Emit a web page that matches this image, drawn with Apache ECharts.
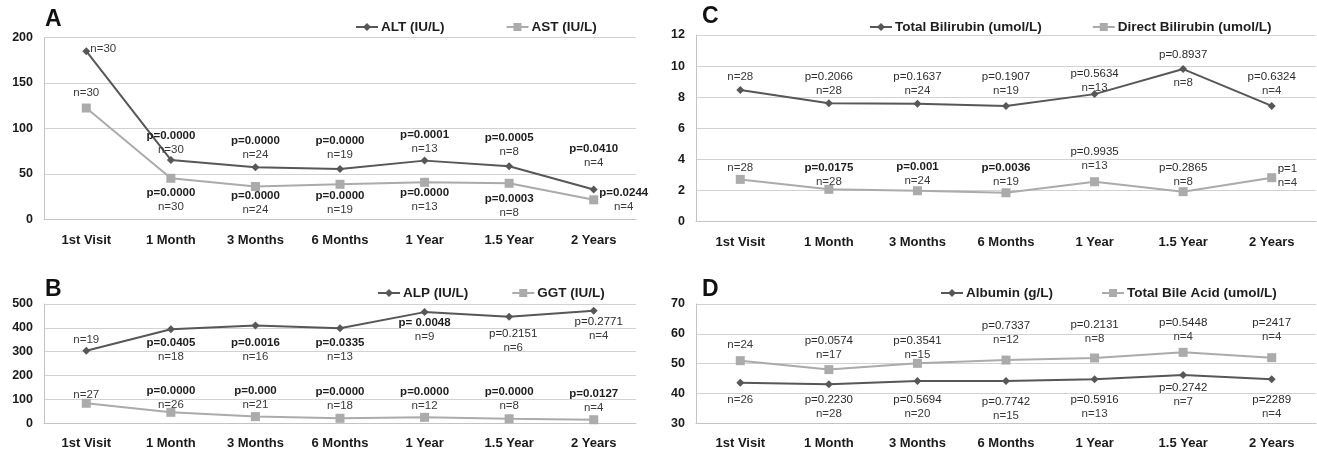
<!DOCTYPE html>
<html><head><meta charset="utf-8">
<script src="https://cdn.jsdelivr.net/npm/echarts@6/dist/echarts.min.js"></script>
<style>html,body{margin:0;padding:0;background:#fff}#c{width:1317px;height:457px}</style>
</head><body><div id="c"></div>
<script>
// ---------- DATA ----------
const categories = ['1st Visit','1 Month','3 Months','6 Months','1 Year','1.5 Year','2 Years'];

const altValues = [185, 65.5, 57.4, 55.6, 64.7, 58.5, 32.9];
const astValues = [122.5, 45.3, 36.2, 38.7, 40.9, 39.8, 21.6];
const alpValues = [304, 394, 410, 398, 466, 447, 472];
const ggtValues = [84, 46, 28, 21, 25, 19, 15];
const tbilValues = [8.46, 7.61, 7.58, 7.44, 8.2, 9.81, 7.44];
const dbilValues = [2.72, 2.08, 1.99, 1.86, 2.57, 1.93, 2.83];
const albValues = [43.6, 43.1, 44.2, 44.2, 44.8, 46.2, 44.8];
const tbaValues = [51.0, 48.0, 50.1, 51.2, 51.9, 53.8, 52.0];

const altP = ['', 'p=0.0000','p=0.0000','p=0.0000','p=0.0001','p=0.0005','p=0.0410'];
const altN = ['n=30','n=30','n=24','n=19','n=13','n=8','n=4'];
const astP = ['', 'p=0.0000','p=0.0000','p=0.0000','p=0.0000','p=0.0003','p=0.0244'];
const astN = ['n=30','n=30','n=24','n=19','n=13','n=8','n=4'];
const alpP = ['', 'p=0.0405','p=0.0016','p=0.0335','p= 0.0048','p=0.2151','p=0.2771'];
const alpN = ['n=19','n=18','n=16','n=13','n=9','n=6','n=4'];
const ggtP = ['', 'p=0.0000','p=0.000','p=0.0000','p=0.0000','p=0.0000','p=0.0127'];
const ggtN = ['n=27','n=26','n=21','n=18','n=12','n=8','n=4'];
const tbilP = ['', 'p=0.2066','p=0.1637','p=0.1907','p=0.5634','p=0.8937','p=0.6324'];
const tbilN = ['n=28','n=28','n=24','n=19','n=13','n=8','n=4'];
const dbilP = ['', 'p=0.0175','p=0.001','p=0.0036','p=0.9935','p=0.2865','p=1'];
const dbilN = ['n=28','n=28','n=24','n=19','n=13','n=8','n=4'];
const albP = ['', 'p=0.2230','p=0.5694','p=0.7742','p=0.5916','p=0.2742','p=2289'];
const albN = ['n=26','n=28','n=20','n=15','n=13','n=7','n=4'];
const tbaP = ['', 'p=0.0574','p=0.3541','p=0.7337','p=0.2131','p=0.5448','p=2417'];
const tbaN = ['n=24','n=17','n=15','n=12','n=8','n=4','n=4'];

// y-axis ranges [min, max, interval]
const axisA = [0, 200, 50];
const axisB = [0, 500, 100];
const axisC = [0, 12, 2];
const axisD = [30, 70, 10];

// ---------- STYLE: label placement [dx, dy, align, gapLine] ----------
const layALT = [[17,-2],[0,-17],[0,-19],[0,-21],[0,-19],[0,-21.7],[0,-33.5]];
const layAST = [[0,-15],[0,22],[0,16],[0,19],[0,18],[0,23],[30,0]];
const layALP = [[0,-11.4],[0,20.7],[0,24.7],[0,21.7],[0,17.7],[4,24.1],[5,18]];
const layGGT = [[0,-8.3],[0,-14.8],[0,-19.2],[0,-19.1],[0,-18.1],[0,-19.5],[0,-18.5]];
const layTB  = [[0,-13],[0,-19],[0,-20],[0,-22],[0,-13.5],[0,0,'center',true],[0,-22]];
const layDB  = [[0,-12],[0,-15],[0,-17],[0,-18],[0,-22.7],[0,-16.7],[6,-2,'left']];
const layALB = [[0,17.3],[0,22.7],[0,26],[0,27.7],[0,27.7],[0,19.5],[0,27.7]];
const layTBA = [[0,-15.7],[0,-22.2],[0,-15.8],[0,-27],[0,-26],[0,-22.3],[0,-27.7]];

const FONT = '"Liberation Sans", Arial, Helvetica, sans-serif';
const DARK = '#575757', LIGHT = '#ababab';
const GRIDC = '#d2d2d2', AXC = '#c4c4c4';

function isSig(p){
  if(!p) return false;
  const v = parseFloat(p.replace('p=','').trim());
  return !isNaN(v) && v < 0.05;
}
function buildData(values, ps, ns, lay){
  return values.map((v,i)=>{
    const p = ps[i], n = ns[i], L = lay[i];
    let txt;
    if(p){
      const pt = (isSig(p) ? '{pb|' : '{p|') + p + '}';
      txt = L[3] ? pt + '\n{n| }\n{n|' + n + '}' : pt + '\n{n|' + n + '}';
    } else txt = '{n|' + n + '}';
    return {value: v, label: {show: true, formatter: txt, offset: [L[0], L[1]], align: L[2] || 'center'}};
  });
}
const rich = {
  p: {fontFamily: FONT, fontSize: 11.5, color: '#2b2b2b', lineHeight: 14},
  pb:{fontFamily: FONT, fontSize: 11.5, fontWeight: 'bold', color: '#1e1e1e', lineHeight: 14},
  n: {fontFamily: FONT, fontSize: 11.5, color: '#3a3a3a', lineHeight: 14}
};
function mkSeries(name, values, ps, ns, lay, gi, dark){
  return {
    name, type: 'line', xAxisIndex: gi, yAxisIndex: gi,
    data: buildData(values, ps, ns, lay),
    symbol: dark ? 'diamond' : 'rect',
    symbolSize: dark ? 8 : 9,
    showSymbol: true,
    lineStyle: {color: dark ? DARK : LIGHT, width: 2},
    itemStyle: {color: dark ? DARK : LIGHT},
    label: {show: true, position: 'inside', verticalAlign: 'middle', rich},
    emphasis: {disabled: true},
    animation: false, z: dark ? 3 : 2
  };
}

const grids = [
  {left: 44, top: 37.5, width: 592, height: 182},
  {left: 44, top: 304, width: 592, height: 119.3},
  {left: 696, top: 35, width: 620, height: 186.7},
  {left: 696, top: 304, width: 620, height: 119.3}
];
const axes = [axisA, axisB, axisC, axisD];

const option = {
  animation: false,
  backgroundColor: '#fff',
  textStyle: {fontFamily: FONT},
  title: [
    {text: 'A', left: 45, top: 8},
    {text: 'B', left: 45, top: 278},
    {text: 'C', left: 702, top: 5},
    {text: 'D', left: 702, top: 278}
  ].map(t => Object.assign(t, {padding: 0, textStyle: {fontFamily: FONT, fontSize: 23, fontWeight: 'bold', color: '#111'}})),
  legend: [
    {data: ['ALT (IU/L)','AST (IU/L)'], left: 355, top: 20, itemGap: 61},
    {data: ['ALP (IU/L)','GGT (IU/L)'], left: 377, top: 286, itemGap: 43},
    {data: ['Total Bilirubin (umol/L)','Direct Bilirubin (umol/L)'], left: 869, top: 20, itemGap: 50},
    {data: ['Albumin (g/L)','Total Bile Acid (umol/L)'], left: 940, top: 286, itemGap: 48}
  ].map(l => Object.assign(l, {padding: 0, itemWidth: 22, itemHeight: 10, textStyle: {fontFamily: FONT, fontSize: 13.5, fontWeight: 'bold', color: '#1e1e1e', padding: [0,0,0,-2]}})),
  grid: grids,
  xAxis: grids.map((g,i)=>({
    type: 'category', gridIndex: i, data: categories, boundaryGap: true,
    axisTick: {show: false},
    axisLine: {show: true, lineStyle: {color: AXC, width: 1}},
    axisLabel: {fontFamily: FONT, fontSize: 13, fontWeight: 'bold', color: '#1a1a1a', margin: 14, interval: 0}
  })),
  yAxis: axes.map((a,i)=>({
    type: 'value', gridIndex: i, min: a[0], max: a[1], interval: a[2],
    axisLine: {show: true, lineStyle: {color: AXC, width: 1}},
    axisTick: {show: false},
    splitLine: {show: true, lineStyle: {color: GRIDC, width: 1}},
    axisLabel: {fontFamily: FONT, fontSize: 12.5, fontWeight: 'bold', color: '#1a1a1a', margin: 11}
  })),
  series: [
    mkSeries('ALT (IU/L)', altValues, altP, altN, layALT, 0, true),
    mkSeries('AST (IU/L)', astValues, astP, astN, layAST, 0, false),
    mkSeries('ALP (IU/L)', alpValues, alpP, alpN, layALP, 1, true),
    mkSeries('GGT (IU/L)', ggtValues, ggtP, ggtN, layGGT, 1, false),
    mkSeries('Total Bilirubin (umol/L)', tbilValues, tbilP, tbilN, layTB, 2, true),
    mkSeries('Direct Bilirubin (umol/L)', dbilValues, dbilP, dbilN, layDB, 2, false),
    mkSeries('Albumin (g/L)', albValues, albP, albN, layALB, 3, true),
    mkSeries('Total Bile Acid (umol/L)', tbaValues, tbaP, tbaN, layTBA, 3, false)
  ]
};
const chart = echarts.init(document.getElementById('c'), null, {renderer: 'canvas'});
chart.setOption(option);
</script></body></html>
